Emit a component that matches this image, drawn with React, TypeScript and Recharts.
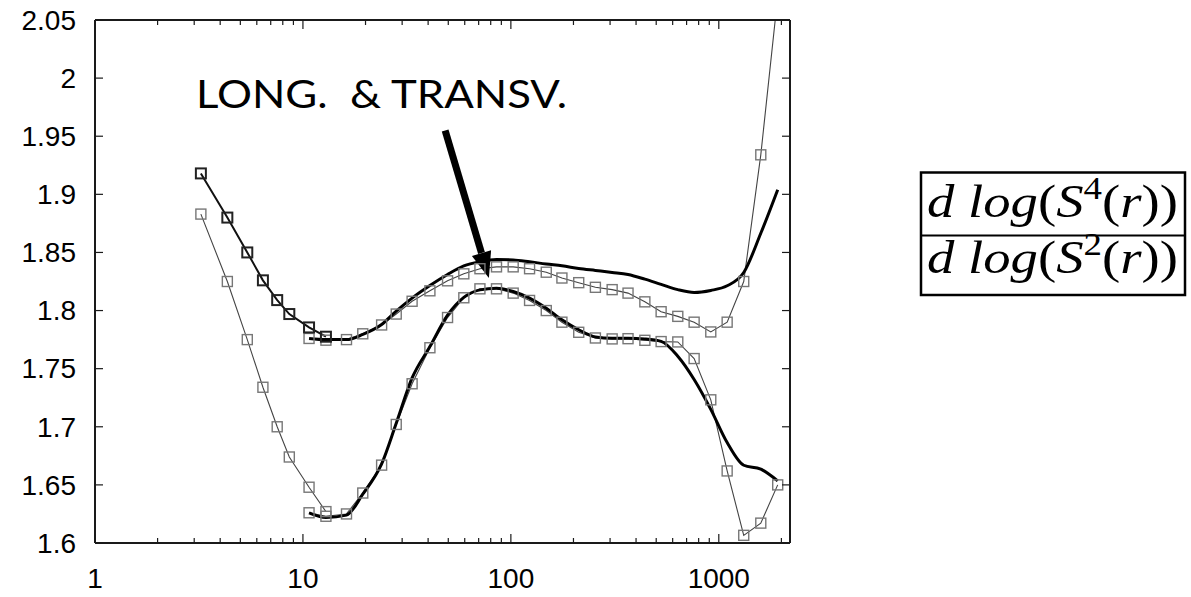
import { LineChart, Line, XAxis, YAxis, ReferenceLine } from 'recharts';

// short runs, r = 3 .. 13
const rShort = [3.23, 4.33, 5.4, 6.42, 7.52, 8.6, 10.7, 12.9];
const upperShort = [1.918, 1.88, 1.85, 1.826, 1.809, 1.797, 1.7855, 1.7775];
const lowerShort = [1.883, 1.825, 1.775, 1.734, 1.7, 1.674, 1.648, 1.627];

// long runs, r = 10 .. 2000
const rLong = [
  10.7, 12.9, 16.2, 19.4, 23.9, 28.1, 33.5, 40.8, 49.6, 59.4,
  71, 85.3, 102.6, 123, 148, 176, 212, 255, 307, 366,
  441, 528, 635, 761, 915, 1097, 1318, 1592, 1920,
];
const upperMarked = [
  1.776, 1.7745, 1.775, 1.78, 1.7876, 1.797, 1.808, 1.817, 1.8256, 1.8316,
  1.836, 1.8376, 1.8376, 1.836, 1.833, 1.828, 1.824, 1.82, 1.818, 1.815,
  1.8075, 1.799, 1.795, 1.79, 1.7816, 1.79, 1.825, 1.934, 2.07,
];
const lowerMarked = [
  1.626, 1.623, 1.625, 1.643, 1.667, 1.702, 1.737, 1.768, 1.794, 1.811,
  1.8187, 1.8187, 1.815, 1.8087, 1.8, 1.79, 1.7813, 1.7764, 1.7756, 1.7758,
  1.7744, 1.7733, 1.773, 1.7587, 1.7232, 1.662, 1.6066, 1.6171, 1.65,
];
const upperSmooth = [
  1.776, 1.775, 1.775, 1.7795, 1.788, 1.7995, 1.8107, 1.8215, 1.831, 1.8384,
  1.842, 1.8439, 1.8436, 1.842, 1.84, 1.8385, 1.8362, 1.8345, 1.8328, 1.831,
  1.827, 1.8225, 1.818, 1.8156, 1.8173, 1.8213, 1.8327, 1.8665, 1.904,
];
const lowerSmooth = [
  1.626, 1.622, 1.624, 1.642, 1.668, 1.703, 1.742, 1.769, 1.796, 1.8113,
  1.8178, 1.8193, 1.8164, 1.8107, 1.802, 1.792, 1.7835, 1.7773, 1.7762, 1.7762,
  1.7756, 1.7735, 1.7607, 1.7407, 1.715, 1.6864, 1.6669, 1.6635, 1.6534,
];

const X_MIN = 1;
const X_MAX = 2200;
const yTicks = [1.6, 1.65, 1.7, 1.75, 1.8, 1.85, 1.9, 1.95, 2, 2.05];
const xMajorTicks = [1, 10, 100, 1000];
const xMinorTicks = [2, 3, 4, 5, 6, 7, 8, 9, 20, 30, 40, 50, 60, 70, 80, 90, 200, 300, 400, 500, 600, 700, 800, 900, 2000];
// X_MAX rides along so the axis keeps the full range; it gets no mark
const xTicks = [...xMajorTicks, ...xMinorTicks, X_MAX].sort((a, b) => a - b);

// arrow from the caption down to the peak of the lower pair
const arrowFrom = { r: 48.3, v: 1.955 };
const arrowTo = { r: 78.4, v: 1.828 };

const toPoints = (xs: number[], ys: number[]) => xs.map((r, i) => ({ r, v: ys[i] }));

const AXIS = '#1a1a1a';
const LABEL_FONT = '"Liberation Sans", Arial, sans-serif';

const square = (stroke: string, width: number) => (props: any) => {
  const { cx, cy, index } = props;
  if (cx == null || cy == null || isNaN(cy)) return <g key={`s-${index}`} />;
  return (
    <rect key={`s-${index}`} x={cx - 5} y={cy - 5} width={10} height={10}
      fill="none" stroke={stroke} strokeWidth={width} />
  );
};

const tickLength = (v: number) => (xMajorTicks.includes(v) ? 9 : xMinorTicks.includes(v) ? 5 : 0);

const BottomTick = (props: any) => {
  const { x, y, payload } = props;
  const len = tickLength(payload.value);
  if (!len) return <g />;
  return (
    <g>
      <line x1={x} x2={x} y1={y} y2={y - len} stroke={AXIS} strokeWidth={1.2} />
      {xMajorTicks.includes(payload.value) && (
        <text x={x} y={y + 35} dy="0.35em" textAnchor="middle" fontFamily={LABEL_FONT} fontSize={28} fill="#000">
          {payload.value}
        </text>
      )}
    </g>
  );
};

const TopTick = (props: any) => {
  const { x, y, payload } = props;
  const len = tickLength(payload.value);
  if (!len) return <g />;
  return <line x1={x} x2={x} y1={y} y2={y + len} stroke={AXIS} strokeWidth={1.2} />;
};

const LeftTick = (props: any) => {
  const { x, y, payload } = props;
  return (
    <g>
      <line x1={x} x2={x + 8} y1={y} y2={y} stroke={AXIS} strokeWidth={1.2} />
      <text x={x - 19} y={y} dy="0.35em" textAnchor="end" fontFamily={LABEL_FONT} fontSize={28} fill="#000">
        {String(Number(payload.value.toFixed(2)))}
      </text>
    </g>
  );
};

const RightTick = (props: any) => {
  const { x, y } = props;
  return <line x1={x} x2={x - 8} y1={y} y2={y} stroke={AXIS} strokeWidth={1.2} />;
};

const Arrow = (props: any) => {
  const { x1, y1, x2, y2 } = props;
  if ([x1, y1, x2, y2].some((n) => n == null || isNaN(n))) return <g />;
  const dx = x2 - x1;
  const dy = y2 - y1;
  const len = Math.hypot(dx, dy);
  const ux = dx / len;
  const uy = dy / len;
  const head = 26;
  const half = 10;
  const bx = x2 - ux * head;
  const by = y2 - uy * head;
  return (
    <g>
      <line x1={x1} y1={y1} x2={bx} y2={by} stroke="#000" strokeWidth={7} />
      <polygon
        points={`${x2},${y2} ${bx - uy * half},${by + ux * half} ${bx + uy * half},${by - ux * half}`}
        fill="#000"
      />
    </g>
  );
};

export default function App() {
  const W = 1191;
  const H = 597;
  return (
    <div style={{ position: 'absolute', left: 0, top: 0, width: W, height: H, background: '#fff' }}>
      <LineChart width={W} height={H} margin={{ top: 19, right: 400, bottom: 0, left: 0 }}>
        <XAxis
          dataKey="r" type="number" scale="log" domain={[X_MIN, X_MAX]} allowDataOverflow
          ticks={xTicks} interval={0} tickSize={0} tickMargin={0} tickLine={false}
          height={54} axisLine={{ stroke: AXIS, strokeWidth: 2 }} tick={<BottomTick />}
        />
        <XAxis
          xAxisId="top" orientation="top" dataKey="r" type="number" scale="log" domain={[X_MIN, X_MAX]} allowDataOverflow
          ticks={xTicks} interval={0} tickSize={0} tickMargin={0} tickLine={false}
          height={1} axisLine={{ stroke: AXIS, strokeWidth: 2 }} tick={<TopTick />}
        />
        <YAxis
          type="number" domain={[1.6, 2.05]} allowDataOverflow ticks={yTicks} interval={0}
          tickSize={0} tickMargin={0} tickLine={false} width={95}
          axisLine={{ stroke: AXIS, strokeWidth: 2 }} tick={<LeftTick />}
        />
        <YAxis
          yAxisId="right" orientation="right" type="number" domain={[1.6, 2.05]} allowDataOverflow
          ticks={yTicks} interval={0} tickSize={0} tickMargin={0} tickLine={false} width={1}
          axisLine={{ stroke: AXIS, strokeWidth: 2 }} tick={<RightTick />}
        />

        <Line data={toPoints(rLong, upperMarked)} dataKey="v" type="linear" stroke="#444" strokeWidth={1.1}
          dot={square('#777', 1.4)} isAnimationActive={false} />
        <Line data={toPoints(rLong, lowerMarked)} dataKey="v" type="linear" stroke="#444" strokeWidth={1.1}
          dot={square('#777', 1.4)} isAnimationActive={false} />
        <Line data={toPoints(rShort, lowerShort)} dataKey="v" type="linear" stroke="#444" strokeWidth={1.1}
          dot={square('#777', 1.4)} isAnimationActive={false} />
        <Line data={toPoints(rLong, upperSmooth)} dataKey="v" type="monotone" stroke="#000" strokeWidth={3}
          dot={false} isAnimationActive={false} />
        <Line data={toPoints(rLong, lowerSmooth)} dataKey="v" type="monotone" stroke="#000" strokeWidth={3}
          dot={false} isAnimationActive={false} />
        <Line data={toPoints(rShort, upperShort)} dataKey="v" type="linear" stroke="#111" strokeWidth={2}
          dot={square('#222', 2)} isAnimationActive={false} />

        <ReferenceLine
          segment={[{ x: arrowFrom.r, y: arrowFrom.v }, { x: arrowTo.r, y: arrowTo.v }]}
          shape={(p: any) => <Arrow {...p} />}
        />
      </LineChart>

      <svg width={W} height={H} style={{ position: 'absolute', left: 0, top: 0, pointerEvents: 'none' }}>
        <text x={196} y={108} fontFamily="Lato, 'Open Sans', sans-serif" fontSize={38} fill="#000"
          textLength={371} lengthAdjust="spacingAndGlyphs" style={{ whiteSpace: 'pre' }}>
          {'LONG.  & TRANSV.'}
        </text>

        <g fontFamily="'Liberation Serif', 'DejaVu Serif', serif" fill="#000">
          <rect x={921} y={172.5} width={264} height={122.5} fill="none" stroke="#000" strokeWidth={2.5} />
          <line x1={922} x2={1184} y1={235.5} y2={235.5} stroke="#000" strokeWidth={2} />
          <text x={927} y={217} fontSize={46} textLength={251} lengthAdjust="spacingAndGlyphs" style={{ whiteSpace: 'pre' }}>
            <tspan fontStyle="italic">{'d log'}</tspan>
            <tspan>(</tspan>
            <tspan fontStyle="italic">S</tspan>
            <tspan fontSize={31} dy={-18}>4</tspan>
            <tspan dy={18}>(</tspan>
            <tspan fontStyle="italic">r</tspan>
            <tspan>))</tspan>
          </text>
          <text x={927} y={273} fontSize={46} textLength={251} lengthAdjust="spacingAndGlyphs" style={{ whiteSpace: 'pre' }}>
            <tspan fontStyle="italic">{'d log'}</tspan>
            <tspan>(</tspan>
            <tspan fontStyle="italic">S</tspan>
            <tspan fontSize={31} dy={-18}>2</tspan>
            <tspan dy={18}>(</tspan>
            <tspan fontStyle="italic">r</tspan>
            <tspan>))</tspan>
          </text>
        </g>
      </svg>
    </div>
  );
}
